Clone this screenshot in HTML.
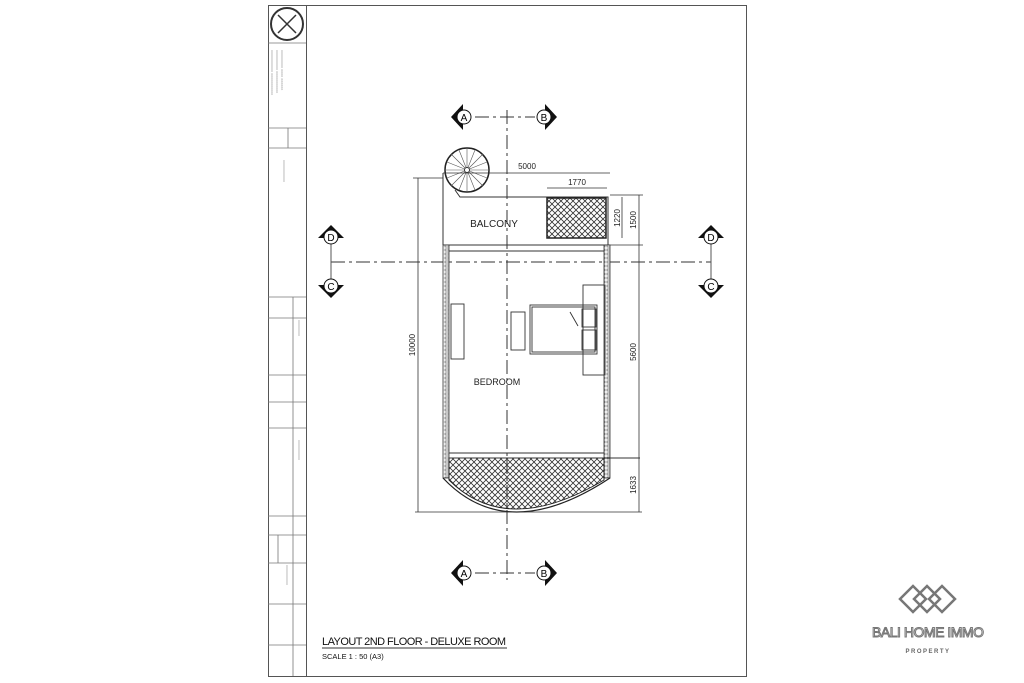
<!DOCTYPE html>
<html><head><style>
html,body{margin:0;padding:0;background:#fff;}
svg{display:block;font-family:"Liberation Sans",sans-serif;}
</style></head><body>
<svg width="1024" height="683" viewBox="0 0 1024 683" xmlns="http://www.w3.org/2000/svg">
<defs>
<pattern id="h" width="6" height="6" patternUnits="userSpaceOnUse">
<path d="M0 0L6 6M6 0L0 6" stroke="#333" stroke-width="0.8"/>
</pattern>
<pattern id="w" width="6" height="4" patternUnits="userSpaceOnUse">
<rect width="6" height="4" fill="#fff"/><rect x="1" y="1" width="4" height="2" fill="none" stroke="#444" stroke-width="0.6"/>
</pattern>
</defs>
<rect width="1024" height="683" fill="#fff"/>
<rect x="268.5" y="5.5" width="478" height="671" fill="none" stroke="#555" stroke-width="1"/>
<line x1="306.5" y1="5" x2="306.5" y2="676" stroke="#555"/>
<g stroke="#777" stroke-width="0.8" fill="none">
<line x1="268" y1="43" x2="306" y2="43"/>
<line x1="268" y1="128" x2="306" y2="128"/>
<line x1="268" y1="148" x2="306" y2="148"/>
<line x1="268" y1="297" x2="306" y2="297"/>
<line x1="268" y1="318" x2="306" y2="318"/>
<line x1="268" y1="375" x2="306" y2="375"/>
<line x1="268" y1="402" x2="306" y2="402"/>
<line x1="268" y1="428" x2="306" y2="428"/>
<line x1="268" y1="516" x2="306" y2="516"/>
<line x1="268" y1="535" x2="306" y2="535"/>
<line x1="268" y1="563" x2="306" y2="563"/>
<line x1="268" y1="604" x2="306" y2="604"/>
<line x1="268" y1="645" x2="306" y2="645"/>
<line x1="288" y1="128" x2="288" y2="148"/>
<line x1="293" y1="297" x2="293" y2="676"/>
<line x1="278" y1="535" x2="278" y2="563"/>
</g>
<circle cx="287" cy="24" r="16" fill="none" stroke="#333" stroke-width="2"/>
<path d="M278 15L296 33M296 15L278 33" stroke="#333" stroke-width="1.5"/>
<g fill="#aaa" font-size="4">
<text transform="translate(281,50) rotate(90)">xxxxxxxxx xxxx xxxxxx</text>
<text transform="translate(276,50) rotate(90)">xxxxxxxxxx xxxxxxxxxxx</text>
<text transform="translate(271,50) rotate(90)">xxxxxxxxxxx xxxxxxxxxxx</text>
<text transform="translate(283,160) rotate(90)">xxxxxxxxxxx</text>
<text transform="translate(298,320) rotate(90)">xxxxxxxx</text>
<text transform="translate(298,440) rotate(90)">xxxxxxxxxx</text>
<text transform="translate(286,565) rotate(90)">xxxxxxxxxx</text>
</g>
<g stroke="#333" stroke-width="1" fill="none" stroke-dasharray="14,4,3,4">
<line x1="507" y1="110" x2="507" y2="580"/>
<line x1="475" y1="117" x2="535" y2="117"/>
<line x1="475" y1="573" x2="535" y2="573"/>
<line x1="331" y1="262" x2="711" y2="262"/>
</g>
<line x1="331" y1="237" x2="331" y2="286" stroke="#555"/>
<line x1="711" y1="237" x2="711" y2="286" stroke="#555"/>
<g font-size="10" text-anchor="middle">
<path d="M451 117L463 104L463 130Z" fill="#111"/><circle cx="464" cy="117" r="7" fill="#fff" stroke="#111"/><text x="464" y="121">A</text>
<path d="M557 117L545 104L545 130Z" fill="#111"/><circle cx="544" cy="117" r="7" fill="#fff" stroke="#111"/><text x="544" y="121">B</text>
<path d="M451 573L463 560L463 586Z" fill="#111"/><circle cx="464" cy="573" r="7" fill="#fff" stroke="#111"/><text x="464" y="577">A</text>
<path d="M557 573L545 560L545 586Z" fill="#111"/><circle cx="544" cy="573" r="7" fill="#fff" stroke="#111"/><text x="544" y="577">B</text>
<path d="M331 225L318 238L344 238Z" fill="#111"/><circle cx="331" cy="237" r="7" fill="#fff" stroke="#111"/><text x="331" y="241">D</text>
<path d="M331 298L318 285L344 285Z" fill="#111"/><circle cx="331" cy="286" r="7" fill="#fff" stroke="#111"/><text x="331" y="290">C</text>
<path d="M711 225L698 238L724 238Z" fill="#111"/><circle cx="711" cy="237" r="7" fill="#fff" stroke="#111"/><text x="711" y="241">D</text>
<path d="M711 298L698 285L724 285Z" fill="#111"/><circle cx="711" cy="286" r="7" fill="#fff" stroke="#111"/><text x="711" y="290">C</text>
</g>
<circle cx="467" cy="170" r="22" fill="#fff" stroke="#222" stroke-width="1.5"/>
<g stroke="#555" stroke-width="0.6">
<line x1="467" y1="148" x2="467" y2="192"/><line x1="445" y1="170" x2="489" y2="170"/>
<line x1="451" y1="154" x2="483" y2="186"/><line x1="483" y1="154" x2="451" y2="186"/>
<line x1="459" y1="150" x2="475" y2="190"/><line x1="475" y1="150" x2="459" y2="190"/>
<line x1="447" y1="162" x2="487" y2="178"/><line x1="447" y1="178" x2="487" y2="162"/>
</g>
<circle cx="467" cy="170" r="2.5" fill="#fff" stroke="#333"/>
<g stroke="#333" fill="none" stroke-width="1">
<path d="M443 173V245M455 190L460 197H608V245"/>
<line x1="443" y1="245" x2="610" y2="245"/>
<line x1="449" y1="251" x2="604" y2="251"/>
</g>
<rect x="547" y="198" width="59" height="40" fill="url(#h)" stroke="#222" stroke-width="1.5"/>
<text x="494" y="227" font-size="10" text-anchor="middle" fill="#222">BALCONY</text>
<rect x="443" y="245" width="6" height="233" fill="url(#w)" stroke="#333" stroke-width="0.8"/>
<rect x="604" y="245" width="6" height="233" fill="url(#w)" stroke="#333" stroke-width="0.8"/>
<line x1="449" y1="453" x2="604" y2="453" stroke="#333"/>
<path d="M449 458H604V481Q530 538 507 539Q484 538 449 481Z" fill="none"/>
<path d="M449 458H604V480Q507 538 449 480Z" fill="url(#h)" stroke="#222"/>
<path d="M443 478Q507 546 610 478" fill="none" stroke="#222" stroke-width="1.2"/>
<line x1="449" y1="458" x2="640" y2="458" stroke="#333"/>
<g stroke="#333" fill="none" stroke-width="0.9">
<rect x="451" y="304" width="13" height="55"/>
<rect x="511" y="312" width="14" height="38"/>
<rect x="530" y="305" width="67" height="49"/>
<rect x="532" y="307" width="63" height="45"/>
<rect x="583" y="285" width="22" height="90"/>
<rect x="582" y="309" width="14" height="18"/>
<rect x="582" y="330" width="14" height="20"/>
<path d="M570 312L578 326"/>
</g>
<text x="497" y="385" font-size="9" text-anchor="middle" fill="#222">BEDROOM</text>
<g stroke="#333" stroke-width="0.8" fill="none">
<line x1="443" y1="173" x2="610" y2="173"/>
<line x1="547" y1="188" x2="607" y2="188"/>
<line x1="622" y1="197" x2="622" y2="238"/>
<line x1="639" y1="195" x2="639" y2="512"/>
<line x1="418" y1="178" x2="418" y2="512"/>
<line x1="413" y1="178" x2="443" y2="178"/>
<line x1="415" y1="512" x2="642" y2="512"/>
<line x1="610" y1="195" x2="643" y2="195"/>
<line x1="610" y1="245" x2="643" y2="245"/>
</g>
<g font-size="8" fill="#222" text-anchor="middle">
<text x="527" y="169">5000</text>
<text x="577" y="185">1770</text>
<text transform="translate(620,218) rotate(-90)">1220</text>
<text transform="translate(636,220) rotate(-90)">1500</text>
<text transform="translate(415,345) rotate(-90)">10000</text>
<text transform="translate(636,352) rotate(-90)">5600</text>
<text transform="translate(636,485) rotate(-90)">1633</text>
</g>
<text x="322" y="645" font-size="11" fill="#111" textLength="184">LAYOUT 2ND FLOOR - DELUXE ROOM</text>
<line x1="322" y1="648" x2="507" y2="648" stroke="#333"/>
<text x="322" y="659" font-size="7.5" fill="#111">SCALE 1 : 50 (A3)</text>
<g fill="none" stroke="#777" stroke-width="2.5">
<path d="M913 586L900 599L913 612L926 599Z"/>
<path d="M927 586L914 599L927 612L940 599Z"/>
<path d="M942 586L929 599L942 612L955 599Z"/>
</g>
<text x="928" y="637" font-size="14" text-anchor="middle" fill="#fff" stroke="#777" stroke-width="1" textLength="112">BALI HOME IMMO</text>
<text x="928" y="653" font-size="6" font-weight="bold" text-anchor="middle" fill="#666" letter-spacing="1.5">PROPERTY</text>
</svg>
</body></html>
